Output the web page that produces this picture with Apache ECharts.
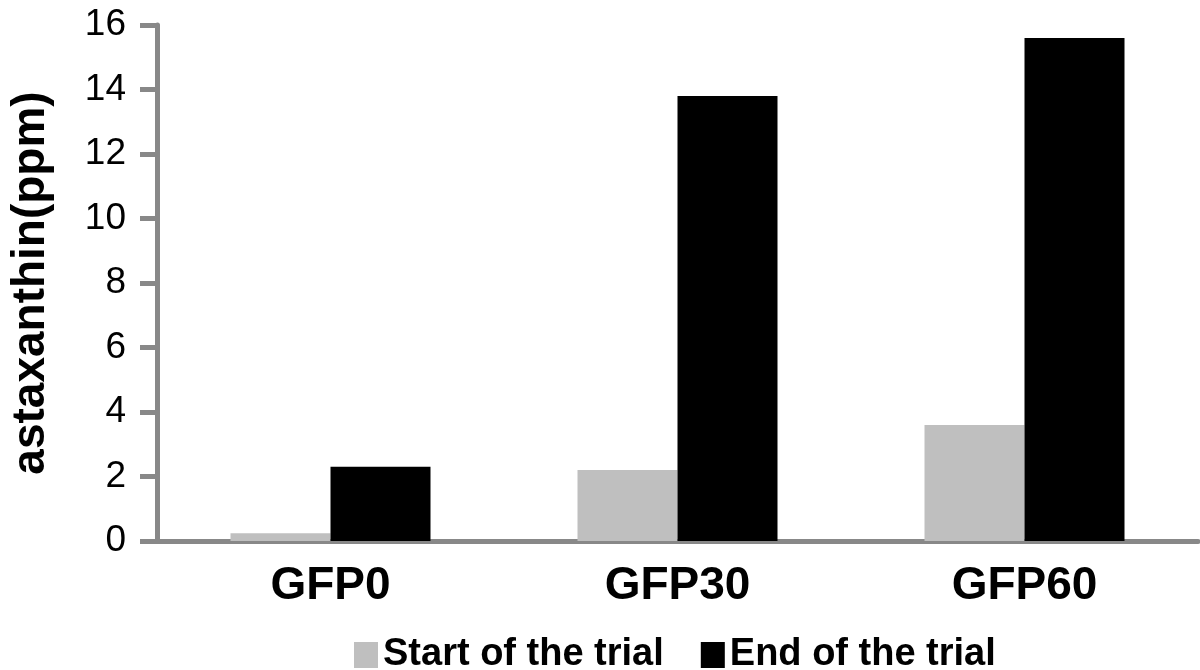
<!DOCTYPE html>
<html>
<head>
<meta charset="utf-8">
<script src="https://cdn.jsdelivr.net/npm/echarts@6/dist/echarts.min.js"></script>
<style>html,body{margin:0;padding:0;background:#fff;}#c{width:1200px;height:670px;}</style>
</head>
<body>
<div id="c"></div>
<script>
const categories = ['GFP0', 'GFP30', 'GFP60'];
const startOfTrial = [0.24, 2.2, 3.6];
const endOfTrial = [2.3, 13.8, 15.6];
const seriesNames = ['Start of the trial', 'End of the trial'];
const yTicks = { min: 0, max: 16, interval: 2 };

const FONT = '"Liberation Sans", Arial, Helvetica, sans-serif';
const AX = '#888888';
const chart = echarts.init(document.getElementById('c'), null, { renderer: 'canvas' });
chart.setOption({
  animation: false,
  backgroundColor: '#ffffff',
  textStyle: { fontFamily: FONT },
  grid: { left: 149, right: 2, top: 25, bottom: 129, containLabel: false },
  legend: {
    data: seriesNames,
    left: 349,
    top: 631,
    itemWidth: 24,
    itemHeight: 26,
    itemGap: 37,
    textStyle: { fontFamily: FONT, fontSize: 38, fontWeight: 'bold', color: '#000', padding: [0, 0, 0, 0] },
    icon: 'rect'
  },
  xAxis: {
    type: 'category',
    data: categories,
    axisLine: { show: true, lineStyle: { color: AX, width: 5 } },
    axisTick: { show: false },
    axisLabel: { fontFamily: FONT, fontSize: 46, fontWeight: 'bold', color: '#000', margin: 22 },
    splitLine: { show: false }
  },
  yAxis: {
    type: 'value',
    min: yTicks.min,
    max: yTicks.max,
    interval: yTicks.interval,
    name: 'astaxanthin(ppm)',
    nameLocation: 'middle',
    nameRotate: 90,
    nameGap: 103,
    nameTextStyle: { fontFamily: FONT, fontSize: 46, fontWeight: 'bold', color: '#000' },
    axisLine: { show: true, lineStyle: { color: AX, width: 5 } },
    axisTick: { show: true, length: 17, lineStyle: { color: AX, width: 5 } },
    axisLabel: { fontFamily: FONT, fontSize: 37, color: '#000', margin: 31 },
    splitLine: { show: false }
  },
  series: [
    {
      name: seriesNames[0], type: 'bar', data: startOfTrial,
      barWidth: 100, barGap: '0%',
      itemStyle: { color: '#bfbfbf' }
    },
    {
      name: seriesNames[1], type: 'bar', data: endOfTrial,
      barWidth: 100, barGap: '0%',
      itemStyle: { color: '#000000' }
    }
  ]
});
</script>
</body>
</html>
